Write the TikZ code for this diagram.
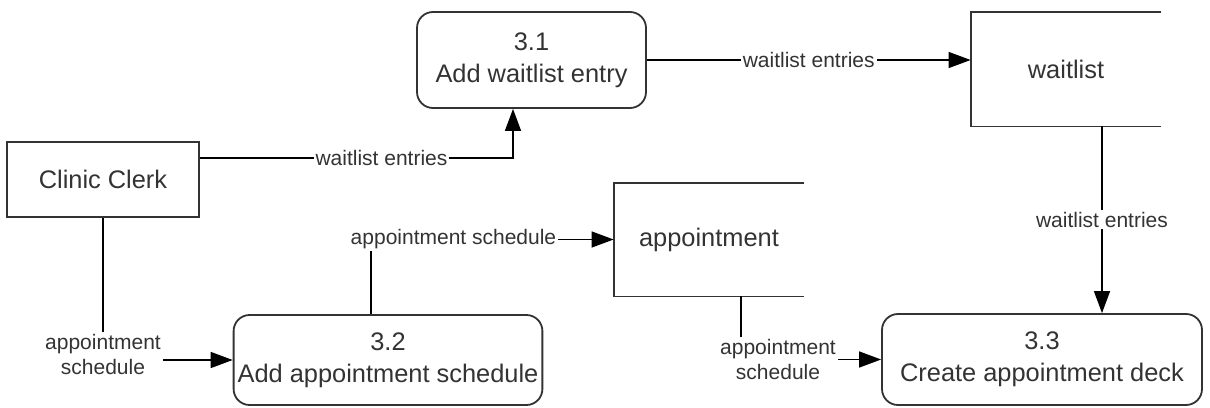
\documentclass[tikz,border=0pt]{standalone}
\usepackage{fontspec}
\setmainfont{Liberation Sans}
\usetikzlibrary{arrows.meta}

\begin{document}
\begin{tikzpicture}[x=0.5pt, y=-0.5pt,
        process/.style={draw=black!80, line width=0.9pt, rounded corners=8pt, align=center, inner xsep=2pt, text=black!80, font=\fontsize{12.7}{16}\selectfont},
        entity/.style={draw=black!80, line width=0.9pt, text=black!80, font=\fontsize{12.7}{16}\selectfont},
        datastore/.style={text=black!80, font=\fontsize{12.7}{16}\selectfont},
        store_line/.style={draw=black!80, line width=0.9pt},
        flow/.style={line width=0.7pt, -{Triangle[length=11pt, width=8pt]}},
        flow_label/.style={fill=white, inner sep=1pt, align=center, text=black!80, font=\fontsize{10.5}{12.5}\selectfont}
    ]
    \useasboundingbox (0,0) rectangle (1210,407);

    % Entita esterna
    \node[entity, minimum width=96pt, minimum height=37.5pt] (clerk) at (103,179.5) {Clinic Clerk};

    % Processi
    \node[process, minimum width=114.5pt, minimum height=48pt] (p31) at (531.5,60) {3.1\\Add waitlist entry};
    \node[process, minimum width=152pt, minimum height=45pt] (p32) at (388,360) {3.2\\Add appointment schedule};
    \node[process, minimum width=160pt, minimum height=45.5pt] (p33) at (1042,359.5) {3.3\\Create appointment deck};

    % Archivi (aperti a destra)
    \node[datastore, minimum width=95pt, minimum height=57pt] (waitlist) at (1066,69) {waitlist};
    \draw[store_line] (waitlist.north east) -- (waitlist.north west) -- (waitlist.south west) -- (waitlist.south east);
    \node[datastore, minimum width=95pt, minimum height=56.5pt] (appointment) at (709,239.5) {appointment};
    \draw[store_line] (appointment.north east) -- (appointment.north west) -- (appointment.south west) -- (appointment.south east);

    % Punti di uscita
    \coordinate (clerk_out) at ([yshift=10.75pt]clerk.east);
    \coordinate (p31_in) at ([xshift=-9.25pt]p31.south);
    \coordinate (ws_out) at ([xshift=18pt]waitlist.south);
    \coordinate (p32_out) at ([xshift=-8.5pt]p32.north);
    \coordinate (appt_out) at ([xshift=16pt]appointment.south);

    % Flussi
    \draw[flow] (clerk_out) -| node[flow_label, pos=0.29] {waitlist entries} (p31_in);
    \draw[flow] (p31.east) -- (p31.east -| waitlist.west) node[flow_label, midway] {waitlist entries};
    \draw[flow] (ws_out) -- (ws_out |- p33.north) node[flow_label, midway] {waitlist entries};
    \draw[flow] (clerk.south) |- node[flow_label, pos=0.5, yshift=2.75pt] {appointment\\schedule} (p32.west);
    \draw[flow] (p32_out) |- node[flow_label, pos=0.67] {appointment schedule} (appointment.west);
    \draw[flow] (appt_out) |- node[flow_label, pos=0.5, xshift=18.5pt] {appointment\\schedule} (p33.west);
\end{tikzpicture}
\end{document}
